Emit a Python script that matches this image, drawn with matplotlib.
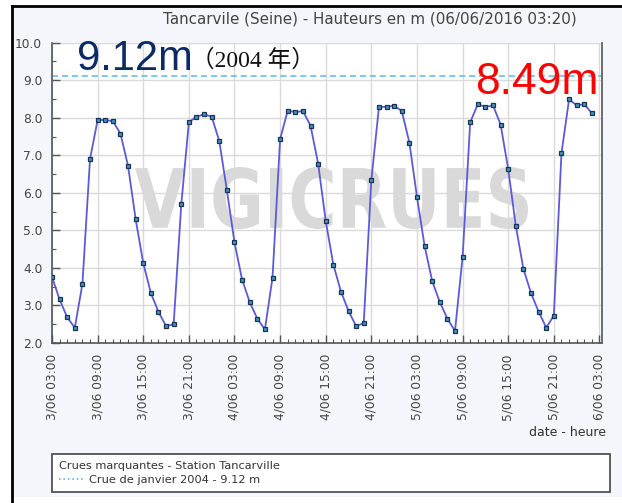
import matplotlib
matplotlib.use("Agg")
import matplotlib.pyplot as plt
import matplotlib.dates as mdates
import pandas as pd
from matplotlib.lines import Line2D
from matplotlib.patches import Rectangle, PathPatch
from matplotlib.textpath import TextPath
from matplotlib.font_manager import FontProperties
from matplotlib.transforms import Affine2D

# hourly water heights at Tancarville, from 3/06 03:00
start = "2016-06-03 03:00"
levels = [3.76, 3.16, 2.68, 2.41, 3.57, 6.90, 7.94, 7.94, 7.91, 7.58, 6.72, 5.30,
          4.13, 3.33, 2.83, 2.45, 2.50, 5.69, 7.88, 8.03, 8.09, 8.03, 7.38, 6.07,
          4.68, 3.69, 3.09, 2.65, 2.36, 3.74, 7.43, 8.19, 8.15, 8.18, 7.79, 6.78,
          5.25, 4.09, 3.37, 2.85, 2.45, 2.53, 6.34, 8.29, 8.29, 8.32, 8.18, 7.34,
          5.89, 4.59, 3.65, 3.09, 2.65, 2.32, 4.29, 7.88, 8.36, 8.29, 8.33, 7.82,
          6.63, 5.12, 3.97, 3.33, 2.83, 2.41, 2.73, 7.05, 8.49, 8.33, 8.36, 8.12]
flood_2004 = 9.12
peak_now = 8.49
x_end = "2016-06-06 03:20"

times = pd.date_range(start, periods=len(levels), freq="h")

W, H = 622, 503
fig = plt.figure(figsize=(W / 100, H / 100), dpi=100, facecolor="white")

# screenshot frame
fig.patches.append(Rectangle((12 / W, 6 / H), (W - 12) / W, (H - 12) / H,
                             transform=fig.transFigure, fc="#f4f6fb", ec="none", zorder=-10))
fig.lines.append(Line2D([12 / W, 12 / W], [0, 1 - 6 / H], transform=fig.transFigure,
                        color="black", lw=2, zorder=-5))
fig.lines.append(Line2D([12 / W, 1], [1 - 6 / H, 1 - 6 / H], transform=fig.transFigure,
                        color="black", lw=2, zorder=-5))

ax = fig.add_axes([52 / W, (H - 343) / H, (602 - 52) / W, (343 - 42.7) / H])
ax.set_facecolor("white")
ax.set_axisbelow(True)

ax.plot(times, levels, color="#5b5bd8", lw=1.3, marker="s", ms=3.2,
        mfc="#3f95bd", mec="#1b3350", mew=0.9, zorder=3)
ax.axhline(flood_2004, color="#5ab8ec", lw=1.1, ls=(0, (4, 2.5)), zorder=2)

ax.xaxis.set_major_locator(mdates.HourLocator(byhour=[3, 9, 15, 21]))
ax.xaxis.set_minor_locator(mdates.HourLocator())
ax.xaxis.set_major_formatter(plt.FuncFormatter(
    lambda v, p: (lambda d: f"{d.day}/{d:%m %H:%M}")(mdates.num2date(v))))
ax.yaxis.set_major_locator(plt.MultipleLocator(1.0))
ax.yaxis.set_minor_locator(plt.MultipleLocator(0.5))
ax.yaxis.set_major_formatter(plt.FormatStrFormatter("%.1f"))

ax.tick_params(axis="both", which="major", direction="in", length=6, width=1,
               color="#555555", labelsize=8.8, labelcolor="#444444", pad=7)
ax.tick_params(axis="both", which="minor", direction="in", length=3, width=0.8,
               color="#555555")
ax.tick_params(axis="x", labelrotation=90, pad=8)

ax.grid(True, which="major", color="#dadada", lw=1)
for s in ["left", "bottom", "right"]:
    ax.spines[s].set_color("#555555")
    ax.spines[s].set_linewidth(1.2)
ax.spines["top"].set_visible(False)

# watermark
tp = TextPath((0, 0), "VIGICRUES", size=1,
              prop=FontProperties(family="DejaVu Sans", weight="bold"))
ext = tp.get_extents()
x0, x1, ytop, ybot = 135, 528, 167, 229
tr = (Affine2D().translate(-ext.x0, -ext.y0)
      .scale((x1 - x0) / ext.width / W, (ybot - ytop) / ext.height / H)
      .translate(x0 / W, (H - ybot) / H) + fig.transFigure)
ax.add_patch(PathPatch(tp, transform=tr, fc="#d9d9d9", ec="none", zorder=1))
ax.set_ylim(2.0, 10.0)
ax.set_xlim(pd.Timestamp(start), pd.Timestamp(x_end))

fig.text(370 / W, 1 - 19 / H, "Tancarvile (Seine) - Hauteurs en m (06/06/2016 03:20)",
         ha="center", va="center", fontsize=10.9, color="#444444")
fig.text(606 / W, 1 - 433 / H, "date - heure", ha="right", va="center",
         fontsize=9, color="#333333")

# big annotations
fig.text(77 / W, 1 - 70 / H, f"{flood_2004:.2f}m", ha="left", va="baseline",
         fontsize=30, color="#0b2a66", family="Liberation Sans")
fig.text(191 / W, 1 - 67 / H, "（2004 年）", ha="left", va="baseline",
         fontsize=17, color="#111111", family=["Liberation Serif", "Noto Sans CJK JP"])
fig.text(475 / W, 1 - 94 / H, f"{peak_now:.2f}m", ha="left", va="baseline",
         fontsize=32, color="#ff0000", family="Liberation Sans")

# legend box
handle = Line2D([], [], color="#5ab8ec", lw=1.2, ls=":")
leg = ax.legend([handle], ["Crue de janvier 2004 - 9.12 m"],
                title="Crues marquantes - Station Tancarville",
                loc="upper left", bbox_to_anchor=(52 / W, 1 - 454 / H, 558 / W, 0),
                bbox_transform=fig.transFigure, mode="expand", fontsize=8.2,
                title_fontsize=8.2, alignment="left", fancybox=False, frameon=True,
                edgecolor="#444444", framealpha=1, borderpad=0.62, handlelength=2.1,
                handletextpad=0.5, borderaxespad=0, labelspacing=0.35)
leg.get_frame().set_linewidth(1.2)
leg.get_title().set_color("#333333")
for t in leg.get_texts():
    t.set_color("#333333")

fig.savefig("out.png", dpi=100, facecolor="white")
